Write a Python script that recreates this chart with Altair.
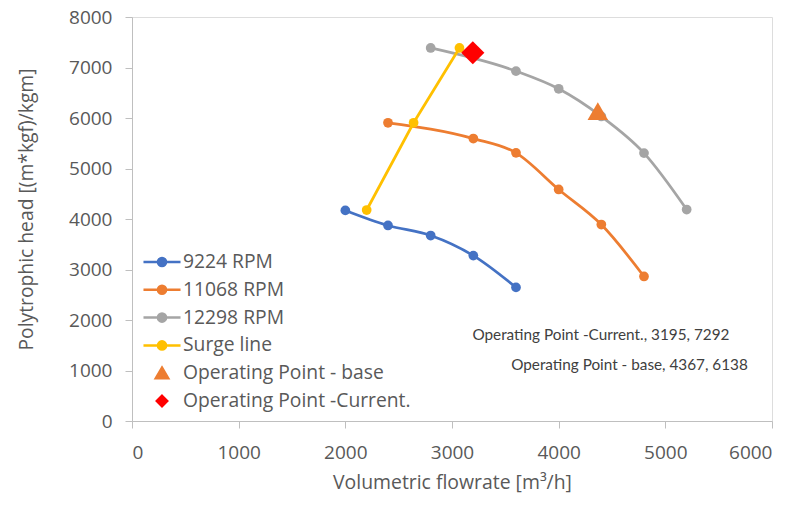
import altair as alt
import pandas as pd

# ---- data ----
series_names = ["9224 RPM", "11068 RPM", "12298 RPM", "Surge line",
                "Operating Point - base", "Operating Point -Current."]
series_colors = ["#4472C4", "#ED7D31", "#A5A5A5", "#FFC000", "#ED7D31", "#FF0000"]

rpm9224_x = [2000, 2400, 2800, 3200, 3600]
rpm9224_y = [4170, 3872, 3673, 3275, 2645]

rpm11068_x = [2400, 3200, 3600, 4000, 4400, 4800]
rpm11068_y = [5905, 5593, 5310, 4585, 3890, 2862]

rpm12298_x = [2800, 3600, 4000, 4400, 4800, 5200]
rpm12298_y = [7387, 6928, 6578, 6030, 5305, 4188]

surge_x = [2200, 2640, 3070]
surge_y = [4178, 5905, 7387]

op_base_x = [4367]
op_base_y = [6138]
op_current_x = [3195]
op_current_y = [7292]

label_texts = ["Operating Point -Current., 3195, 7292", "Operating Point - base, 4367, 6138"]
label_x = [4396, 4664]
label_y = [1712, 1100]

x_ticks = [0, 1000, 2000, 3000, 4000, 5000, 6000]
y_ticks = [0, 1000, 2000, 3000, 4000, 5000, 6000, 7000, 8000]

# ---- tables ----
rows = []
for name, xs, ys in [
    (series_names[0], rpm9224_x, rpm9224_y),
    (series_names[1], rpm11068_x, rpm11068_y),
    (series_names[2], rpm12298_x, rpm12298_y),
    (series_names[3], surge_x, surge_y),
    (series_names[4], op_base_x, op_base_y),
    (series_names[5], op_current_x, op_current_y),
]:
    col = series_colors[series_names.index(name)]
    for i, (xv, yv) in enumerate(zip(xs, ys)):
        rows.append({"series": name, "x": xv, "y": yv, "col": col, "order": i})
df = pd.DataFrame(rows)
labels_df = pd.DataFrame({"text": label_texts, "x": label_x, "y": label_y})

FONT = "Open Sans"
GREY = "#595959"
AXC = "#BFBFBF"

xenc = alt.X("x:Q", scale=alt.Scale(domain=[0, 6000], nice=False),
             axis=alt.Axis(values=x_ticks, format="d", grid=False, domainColor=AXC, tickColor=AXC,
                           tickSize=7, domainWidth=1, tickWidth=1,
                           labelFont=FONT, labelFontSize=19, labelColor=GREY, labelPadding=15,
                           title="Volumetric flowrate [m³/h]", titleFont=FONT, titleFontSize=19.4,
                           titleColor=GREY, titleFontWeight="normal", titlePadding=11))
yenc = alt.Y("y:Q", scale=alt.Scale(domain=[0, 8000], nice=False),
             axis=alt.Axis(values=y_ticks, format="d", grid=False, domainColor=AXC, tickColor=AXC,
                           tickSize=7, domainWidth=1, tickWidth=1,
                           labelFont=FONT, labelFontSize=19, labelColor=GREY, labelPadding=13,
                           title="Polytrophic head [(m*kgf)/kgm]", titleFont=FONT, titleFontSize=19.3,
                           titleColor=GREY, titleFontWeight="normal", titlePadding=32, titleY=192))

base = alt.Chart(df)
rpm_only = alt.FieldOneOfPredicate(field="series", oneOf=series_names[:3])

rpm_lines = base.transform_filter(rpm_only).mark_line(
    interpolate="monotone", strokeWidth=2.75
).encode(x=xenc, y=yenc, color=alt.Color("col:N", scale=None),
         detail="series:N", order="order:Q")

rpm_points = base.transform_filter(rpm_only).mark_circle(size=95, opacity=1).encode(
    x=xenc, y=yenc, color=alt.Color("col:N", scale=None))

surge = base.transform_filter(alt.datum.series == series_names[3])
surge_line = surge.mark_line(strokeWidth=2.75).encode(
    x=xenc, y=yenc, color=alt.Color("col:N", scale=None), order="order:Q")
surge_points = surge.mark_circle(size=95, opacity=1).encode(
    x=xenc, y=yenc, color=alt.Color("col:N", scale=None))

op_base = base.transform_filter(alt.datum.series == series_names[4]).mark_point(
    shape="triangle-up", filled=True, size=420, opacity=1).encode(
    x=xenc, y=yenc, color=alt.Color("col:N", scale=None))
op_cur = base.transform_filter(alt.datum.series == series_names[5]).mark_point(
    shape="diamond", filled=True, size=540, opacity=1).encode(
    x=xenc, y=yenc, color=alt.Color("col:N", scale=None))

line_sym = "M-1.5,0L1.5,0M-0.33,0A0.33,0.33,0,1,0,0.33,0A0.33,0.33,0,1,0,-0.33,0Z"
tri_sym = "M0,-0.45L0.5,0.4L-0.5,0.4Z"
dia_sym = "M0,-0.42L0.42,0L0,0.42L-0.42,0Z"

legend = alt.Legend(
    title=None, orient="none", legendX=16, legendY=231, direction="vertical",
    symbolSize=610, symbolStrokeWidth=2.5, symbolOpacity=1,
    labelFont=FONT, labelFontSize=19.3, labelColor=GREY, labelOffset=7,
    rowPadding=2.8, padding=0, labelLimit=400,
)
cscale = alt.Scale(domain=series_names, range=series_colors)
legend_layer = base.mark_point(opacity=0, strokeWidth=2.5).encode(
    x=xenc, y=yenc,
    fill=alt.Fill("series:N", scale=cscale, legend=legend, title=None),
    stroke=alt.Stroke("series:N", scale=cscale, legend=legend, title=None),
    shape=alt.Shape("series:N", scale=alt.Scale(domain=series_names,
                    range=[line_sym, line_sym, line_sym, line_sym, tri_sym, dia_sym]),
                    legend=legend, title=None),
)

labels = alt.Chart(labels_df).mark_text(
    font="Lato", fontSize=15.3, color="#404040", align="center", baseline="middle"
).encode(x=alt.X("x:Q"), y=alt.Y("y:Q"), text="text:N")

chart = alt.layer(
    rpm_lines, rpm_points, surge_line, surge_points, op_base, op_cur, legend_layer, labels
).properties(
    width=640, height=404,
    autosize=alt.AutoSizeParams(type="none"),
    padding={"left": 132, "top": 17, "right": 25, "bottom": 88},
).configure_view(stroke=None).configure(background="white")

chart.save("out.html", embed_options={"renderer": "svg", "actions": False})
